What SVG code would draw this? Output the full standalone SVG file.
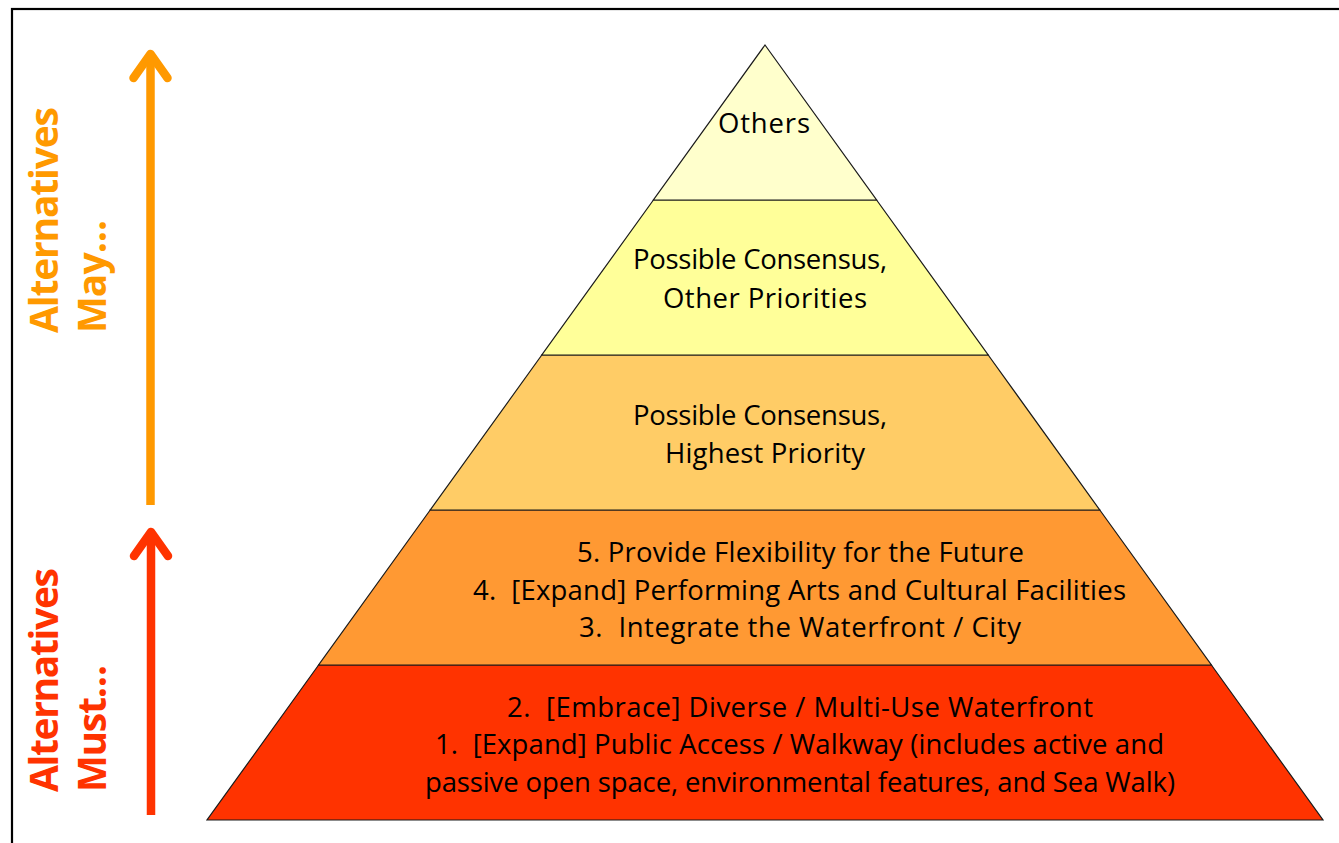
<svg xmlns="http://www.w3.org/2000/svg" width="1339" height="843" viewBox="0 0 1339 843">
<style>
.layer{stroke:#1a1a1a;stroke-width:1.2;stroke-linejoin:miter}
.lbl{font-family:"Open Sans","Liberation Sans",sans-serif;font-size:27.5px;fill:#000;white-space:pre}
.side{font-family:"Open Sans","Liberation Sans",sans-serif;font-size:39px;font-weight:bold;white-space:pre}
.arr{fill:none;stroke-width:8.5}
.head{fill:none;stroke-width:8.5;stroke-linecap:round;stroke-linejoin:round}
</style>
<rect x="0" y="0" width="1339" height="843" fill="#ffffff"/>
<rect x="12" y="9" width="1340" height="850" fill="none" stroke="#000" stroke-width="2.2"/>

<g id="layer5">
<polygon class="layer" fill="#FF3300" points="318.6,665 1211.4,665 1323,820 207,820"/>
<text class="lbl" xml:space="preserve" x="507" y="717" textLength="586">2.  [Embrace] Diverse / Multi-Use Waterfront</text>
<text class="lbl" xml:space="preserve" x="435" y="754" textLength="729">1.  [Expand] Public Access / Walkway (includes active and</text>
<text class="lbl" xml:space="preserve" x="425" y="792" textLength="750">passive open space, environmental features, and Sea Walk)</text>
</g>
<g id="layer4">
<polygon class="layer" fill="#FF9933" points="430.2,510 1099.8,510 1211.4,665 318.6,665"/>
<text class="lbl" xml:space="preserve" x="577" y="562" textLength="447">5. Provide Flexibility for the Future</text>
<text class="lbl" xml:space="preserve" x="473" y="600" textLength="653">4.  [Expand] Performing Arts and Cultural Facilities</text>
<text class="lbl" xml:space="preserve" x="579" y="637" textLength="442">3.  Integrate the Waterfront / City</text>
</g>
<g id="layer3">
<polygon class="layer" fill="#FFCC66" points="541.8,355 988.2,355 1099.8,510 430.2,510"/>
<text class="lbl" xml:space="preserve" x="633" y="425" textLength="254">Possible Consensus,</text>
<text class="lbl" xml:space="preserve" x="665" y="463" textLength="200">Highest Priority</text>
</g>
<g id="layer2">
<polygon class="layer" fill="#FFFF99" points="653.4,200 876.6,200 988.2,355 541.8,355"/>
<text class="lbl" xml:space="preserve" x="633" y="269" textLength="254">Possible Consensus,</text>
<text class="lbl" xml:space="preserve" x="663" y="308" textLength="204">Other Priorities</text>
</g>
<g id="layer1">
<polygon class="layer" fill="#FFFFCC" points="765,45 876.6,200 653.4,200"/>
<text class="lbl" xml:space="preserve" x="718" y="133" textLength="92">Others</text>
</g>

<g id="connectors">
<g id="arrow-may" stroke="#FF9900">
<path class="arr" d="M150.5,505 L150.5,56"/>
<path class="head" d="M133.5,78 L150.5,54 L167.5,78"/>
</g>
<g id="arrow-must" stroke="#FF3300">
<path class="arr" d="M151,815 L151,535"/>
<path class="head" d="M134,556 L151,532 L168,556"/>
</g>
</g>

<g id="label-may" transform="translate(58,333) rotate(-90)">
<text class="side" fill="#FF9900" x="0" y="0" textLength="226">Alternatives</text>
<text class="side" fill="#FF9900" x="0" y="48" textLength="113">May…</text>
</g>
<g id="label-must" transform="translate(58,792) rotate(-90)">
<text class="side" fill="#FF3300" x="0" y="0" textLength="224">Alternatives</text>
<text class="side" fill="#FF3300" x="0" y="48" textLength="127">Must…</text>
</g>
</svg>
